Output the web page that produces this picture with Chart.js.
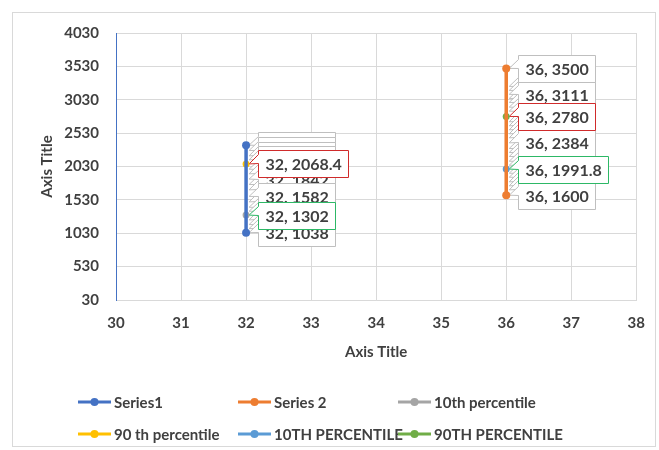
<!DOCTYPE html>
<html>
<head>
<meta charset="utf-8">
<script src="https://cdn.jsdelivr.net/npm/chart.js@4.4.0/dist/chart.umd.min.js"></script>
<style>
  html, body { margin: 0; padding: 0; background: #fff; }
  #wrap { width: 659px; height: 450px; }
</style>
</head>
<body>
<div id="wrap"><canvas id="graph" width="659" height="450"></canvas></div>
<script>
// x position of each group
const x_left = 32;
const x_right = 36;

// Series1 values at x = 32 (array order is also the label drawing order)
const series1 = [2350, 2270, 2190, 2130, 1990, 1920, 1760, 1680, 1500, 1420, 1360, 1230, 1160, 1100, 1842, 1582, 1038];
// Series 2 values at x = 36
const series2 = [3230, 3170, 3050, 2990, 2920, 2860, 2700, 2640, 2580, 2520, 2460, 2300, 2240, 2180, 2110, 2050, 1930, 1870, 1800, 1740, 1680, 3111, 2384, 1600, 3500];

// percentile points
const p10_left = 1302;
const p90_left = 2068.4;
const p10_right = 1991.8;
const p90_right = 2780;

const x_ticks = [30, 31, 32, 33, 34, 35, 36, 37, 38];
const y_ticks = [30, 530, 1030, 1530, 2030, 2530, 3030, 3530, 4030];

const labels = ["Series1", "Series 2", "10th percentile", "90 th percentile", "10TH PERCENTILE", "90TH PERCENTILE"];
const colors = ["#4472C4", "#ED7D31", "#A5A5A5", "#FFC000", "#5B9BD5", "#70AD47"];
const callout_colors = ["#BFBFBF", "#BFBFBF", "#2DB866", "#D02B2B", "#2DB866", "#D02B2B"];

const FONT = "Lato, 'Open Sans', sans-serif";
const TEXT = "#404040";

const at = (x, arr) => arr.map(v => ({ x: x, y: v }));

const series_data = [
  at(x_left, series1),
  at(x_right, series2),
  at(x_left, [p10_left]),
  at(x_left, [p90_left]),
  at(x_right, [p10_right]),
  at(x_right, [p90_right]),
];

// only the ends of a vertical run get a visible marker
function endMarkers(ctx) {
  const arr = ctx.dataset.data.map(p => p.y);
  if (arr.length < 2) return 3.5;
  const v = arr[ctx.dataIndex];
  return v === Math.max(...arr) || v === Math.min(...arr) ? 4 : 0;
}

// boxed data labels with a wedge pointing back at the point
const calloutPlugin = {
  id: "callouts",
  beforeDatasetsDraw(chart) {
    const ctx = chart.ctx;
    ctx.save();
    ctx.font = "bold 16px " + FONT;
    ctx.textBaseline = "middle";
    chart.data.datasets.forEach((ds, di) => {
      const meta = chart.getDatasetMeta(di);
      meta.data.forEach((pt, i) => {
        const d = ds.data[i];
        const text = d.x + ", " + d.y;
        const w = Math.round(ctx.measureText(text).width) + 14;
        const h = 27;
        const left = Math.round(pt.x) + 12.5;
        const top = Math.round(pt.y - h / 2) + 0.5;
        ctx.beginPath();
        ctx.moveTo(left, top);
        ctx.lineTo(left + w, top);
        ctx.lineTo(left + w, top + h);
        ctx.lineTo(left, top + h);
        ctx.lineTo(left, top + 13);
        ctx.lineTo(pt.x + 3, pt.y);
        ctx.lineTo(left, top + 4);
        ctx.closePath();
        ctx.fillStyle = "#fff";
        ctx.fill();
        ctx.lineWidth = 1;
        ctx.strokeStyle = callout_colors[di];
        ctx.stroke();
        ctx.fillStyle = TEXT;
        ctx.fillText(text, left + 7, top + h / 2 + 1);
      });
    });
    ctx.restore();
  },
};

// three-column legend under the plot, plus the chart frame
const legendPlugin = {
  id: "gridLegend",
  afterDraw(chart) {
    const ctx = chart.ctx;
    ctx.save();
    ctx.strokeStyle = "#D9D9D9";
    ctx.lineWidth = 1;
    ctx.strokeRect(12.5, 12.5, 643, 434);

    const cols = [78, 238, 398];
    const rows = [402, 434];
    ctx.font = "bold 15px " + FONT;
    ctx.textBaseline = "middle";
    chart.data.datasets.forEach((ds, i) => {
      const x = cols[i % 3];
      const y = rows[Math.floor(i / 3)];
      ctx.strokeStyle = colors[i];
      ctx.lineWidth = 3;
      ctx.beginPath();
      ctx.moveTo(x, y);
      ctx.lineTo(x + 33, y);
      ctx.stroke();
      ctx.fillStyle = colors[i];
      ctx.beginPath();
      ctx.arc(x + 16.5, y, 4, 0, Math.PI * 2);
      ctx.fill();
      ctx.fillStyle = TEXT;
      ctx.fillText(ds.label, x + 36, y + 1);
    });
    ctx.restore();
  },
};

const tickFont = { family: FONT, size: 15, weight: "bold" };

const config = {
  type: "scatter",
  data: {
    datasets: series_data.map((d, i) => ({
      label: labels[i],
      data: d,
      showLine: i < 2,
      borderColor: colors[i],
      backgroundColor: colors[i],
      borderWidth: 3.5,
      borderCapStyle: "round",
      pointRadius: endMarkers,
      pointBorderWidth: 0,
    })),
  },
  options: {
    responsive: false,
    animation: false,
    layout: { padding: { left: 0, top: 33, right: 18, bottom: 80 } },
    plugins: {
      legend: { display: false },
      tooltip: { enabled: false },
    },
    scales: {
      x: {
        type: "linear",
        min: 30,
        max: 38,
        afterBuildTicks: (s) => { s.ticks = x_ticks.map(v => ({ value: v })); },
        afterFit: (s) => { s.height = 70; },
        grid: { color: "#D9D9D9", drawTicks: false },
        border: { color: "#D9D9D9" },
        ticks: { padding: 14, color: TEXT, font: tickFont, callback: (v) => String(v) },
        title: {
          display: true,
          text: "Axis Title",
          color: TEXT,
          font: tickFont,
          padding: { top: 0, bottom: 9 },
        },
      },
      y: {
        type: "linear",
        min: 30,
        max: 4030,
        afterBuildTicks: (s) => { s.ticks = y_ticks.map(v => ({ value: v })); },
        afterFit: (s) => { s.width = 116; },
        grid: { color: "#D9D9D9", drawTicks: false },
        border: { color: "#4472C4" },
        ticks: { padding: 17, color: TEXT, font: tickFont, callback: (v) => String(v) },
        title: {
          display: true,
          text: "Axis Title",
          color: TEXT,
          font: tickFont,
          padding: { top: 38, bottom: 0 },
        },
      },
    },
  },
  plugins: [calloutPlugin, legendPlugin],
};

new Chart(document.getElementById("graph"), config);
</script>
</body>
</html>
